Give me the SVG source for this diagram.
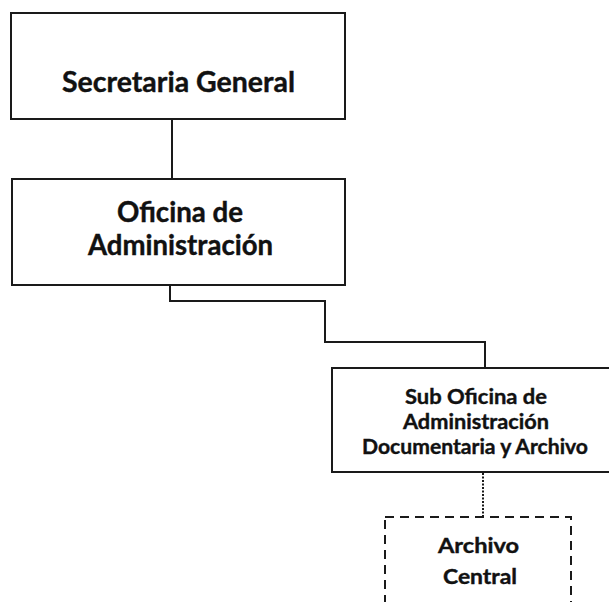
<svg xmlns="http://www.w3.org/2000/svg" width="609" height="602" viewBox="0 0 609 602">
<style>
.box{fill:#fff;stroke:#1a1a1a;stroke-width:2}
.dash{fill:#fff;stroke:#1a1a1a;stroke-width:2;stroke-dasharray:9 6}
.conn{fill:none;stroke:#1a1a1a;stroke-width:2}
.dot{fill:none;stroke:#1a1a1a;stroke-width:2;stroke-dasharray:2 1.5}
text{font-family:Lato,"Open Sans","Liberation Sans",sans-serif;font-weight:bold;fill:#111;text-anchor:middle;stroke:#111;stroke-width:0.4}
.big{font-size:28px}
.small{font-size:21px}
</style>
<rect width="609" height="602" fill="#fff"/>
<g id="connectors">
<line class="conn" x1="172" y1="120" x2="172" y2="179"/>
<polyline class="conn" points="170,285 170,301 325,301 325,342 485,342 485,368"/>
<line class="dot" x1="483" y1="473" x2="483" y2="517"/>
</g>
<g id="secretaria">
<rect class="box" x="11" y="13" width="334" height="106"/>
<text class="big" x="178.5" y="92" textLength="233" lengthAdjust="spacingAndGlyphs">Secretaria General</text>
</g>
<g id="oficina">
<rect class="box" x="12" y="179" width="333" height="106"/>
<text class="big" x="180" y="222" textLength="126" lengthAdjust="spacingAndGlyphs">Oficina de</text>
<text class="big" x="180.5" y="255" textLength="185" lengthAdjust="spacingAndGlyphs">Administración</text>
</g>
<g id="suboficina">
<rect class="box" x="332" y="368" width="290" height="104"/>
<text class="small" x="476" y="404" textLength="142" lengthAdjust="spacingAndGlyphs">Sub Oficina de</text>
<text class="small" x="476" y="429" textLength="146" lengthAdjust="spacingAndGlyphs">Administración</text>
<text class="small" x="475" y="454" textLength="226" lengthAdjust="spacingAndGlyphs">Documentaria y Archivo</text>
</g>
<g id="archivo">
<rect class="dash" x="385" y="517" width="186" height="120"/>
<text class="small" x="478.5" y="553" textLength="81" lengthAdjust="spacingAndGlyphs">Archivo</text>
<text class="small" x="480" y="584" textLength="74" lengthAdjust="spacingAndGlyphs">Central</text>
</g>
</svg>
